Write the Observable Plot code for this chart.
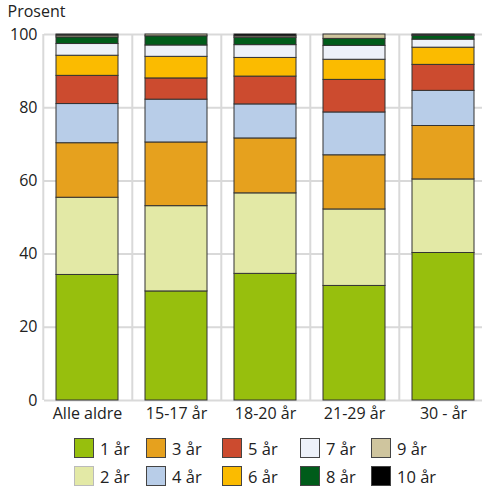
<!DOCTYPE html>
<html>
<head>
<meta charset="utf-8">
<script src="https://cdn.jsdelivr.net/npm/d3@7"></script>
<script src="https://cdn.jsdelivr.net/npm/@observablehq/plot@0.6"></script>
<style>
  html, body { margin: 0; padding: 0; background: #fff; overflow: hidden; }
  body { width: 482px; height: 486px; font-family: "Open Sans", sans-serif; }
  #legend { position: relative; width: 482px; height: 58px; }
  .item { position: absolute; display: flex; align-items: center; height: 20px; font-size: 16.5px; color: #222; }
  .sw { width: 20px; height: 20px; box-sizing: border-box; border: 1px solid #444; margin-right: 6px; }
</style>
</head>
<body>
<div id="chart"></div>
<div id="legend"></div>
<script>
const categories = ["Alle aldre", "15-17 år", "18-20 år", "21-29 år", "30 - år"];
const series = ["1 år", "2 år", "3 år", "4 år", "5 år", "6 år", "7 år", "8 år", "9 år", "10 år"];
const colors = ["#97bf0d", "#e3e9a6", "#e6a11e", "#b8cde8", "#cc4b2f", "#fbbb00", "#edf1f9", "#005c1a", "#cfc59e", "#000000"];

const s1  = [34.3, 29.8, 34.6, 31.3, 40.3];
const s2  = [21.1, 23.3, 22.0, 20.9, 20.1];
const s3  = [14.9, 17.4, 15.0, 14.8, 14.6];
const s4  = [10.7, 11.7, 9.3, 11.7, 9.6];
const s5  = [7.7, 5.8, 7.6, 8.9, 7.1];
const s6  = [5.5, 5.9, 5.1, 5.5, 4.7];
const s7  = [3.2, 3.1, 3.5, 3.8, 2.2];
const s8  = [1.8, 2.5, 2.0, 1.9, 1.0];
const s9  = [0.5, 0.5, 0.4, 1.2, 0.3];
const s10 = [0.3, 0.0, 0.5, 0.0, 0.1];
const yTicks = [0, 20, 40, 60, 80, 100];

const seriesValues = [s1, s2, s3, s4, s5, s6, s7, s8, s9, s10];
const data = [];
series.forEach((s, i) => {
  categories.forEach((c, j) => {
    const v = seriesValues[i][j];
    if (v > 0) data.push({category: c, series: s, value: v});
  });
});

const xRange = [44, 486];
const step = (xRange[1] - xRange[0]) / categories.length;
const grid = "#d9d9d9";

const chart = Plot.plot({
  width: 482,
  height: 428,
  marginLeft: 44,
  marginRight: 0,
  marginTop: 34,
  marginBottom: 28,
  style: {fontFamily: "'Open Sans', sans-serif", fontSize: "16px", color: "#222", overflow: "visible"},
  x: {domain: categories, range: xRange, paddingInner: 0.3, paddingOuter: 0.13, label: null, tickSize: 0, tickPadding: 7},
  y: {domain: [0, 100], ticks: yTicks, label: null, tickSize: 0, tickPadding: 7},
  color: {domain: series, range: colors},
  marks: [
    Plot.ruleY(yTicks, {stroke: grid, strokeWidth: 2}),
    Plot.ruleX(categories, {x: d => d, dx: -step / 2, stroke: grid, strokeWidth: 2}),
    Plot.barY(data, {x: "category", y: "value", fill: "series", stroke: "#333", strokeWidth: 1, order: series}),
    Plot.text(["Prosent"], {frameAnchor: "top-left", dx: -37, dy: -29, textAnchor: "start", fontSize: 16, fill: "#222"})
  ]
});
document.getElementById("chart").appendChild(chart);

const colX = [74, 146, 222, 300, 371];
const legend = document.getElementById("legend");
series.forEach((s, i) => {
  const col = Math.floor(i / 2), row = i % 2;
  const item = document.createElement("div");
  item.className = "item";
  item.style.left = colX[col] + "px";
  item.style.top = (row === 0 ? 10 : 38) + "px";
  const sw = document.createElement("div");
  sw.className = "sw";
  sw.style.background = colors[i];
  if (s === "2 år") sw.style.borderColor = "#bbb";
  const t = document.createElement("span");
  t.textContent = s;
  item.appendChild(sw);
  item.appendChild(t);
  legend.appendChild(item);
});
</script>
</body>
</html>
